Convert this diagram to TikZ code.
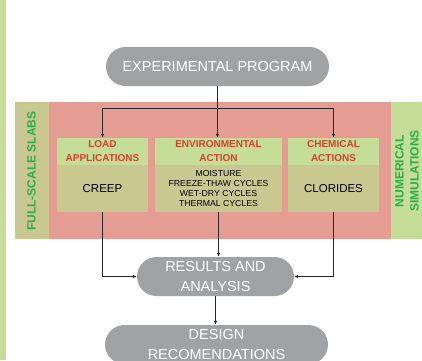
\documentclass[tikz,border=0pt]{standalone}
\usepackage{fontspec}
\setmainfont{Liberation Sans}
\usetikzlibrary{shapes.misc,arrows.meta}

\definecolor{gris}{HTML}{A0A2A3}
\definecolor{rosa}{HTML}{E59D93}
\definecolor{caqui}{HTML}{C9C891}
\definecolor{verde}{HTML}{C4DD97}
\definecolor{rojo}{HTML}{D8412F}
\definecolor{verdeosc}{HTML}{2AAE4A}

\tikzset{
  ovalo/.style={rounded rectangle, fill=gris, text=white, inner sep=0pt,
    minimum height=39pt, align=center, font=\fontsize{14.5}{20}\selectfont},
  cabecera/.style={rectangle, fill=verde, text=rojo, inner sep=0pt,
    minimum height=27pt, align=center, font=\fontsize{10}{14}\selectfont\bfseries},
  cuerpo/.style={rectangle, fill=caqui, inner sep=0pt, minimum height=47pt,
    align=center, font=\fontsize{11.5}{14}\selectfont},
  lateral/.style={text=verdeosc, rotate=90, align=center,
    font=\fontsize{12}{15}\selectfont\bfseries},
  flecha/.style={-{Latex[length=4pt,width=3.5pt]}, line width=0.8pt, black!85}
}

\begin{document}
\begin{tikzpicture}[x=1pt,y=-1pt]
    \useasboundingbox (0,0) rectangle (422,360);

    % Franjas de fondo
    \fill[verde] (0,0) rectangle (6,360);
    \fill[rosa] (15,102) rectangle (391,239);
    \fill[caqui] (15,102) rectangle (49,239);
    \fill[verde] (391,102) rectangle (422,239);
    \node[lateral] (losas) at (31.5,171) {FULL-SCALE SLABS};
    \node[lateral] (numer) at (407,171) {NUMERICAL\\SIMULATIONS};

    % Programa experimental
    \node[ovalo, minimum width=223pt] (prog) at (217.5,66.5) {EXPERIMENTAL PROGRAM};

    % Acciones
    \node[cabecera, minimum width=91pt] (carga) at (102.5,151.5) {LOAD\\APPLICATIONS};
    \node[cuerpo, minimum width=91pt] (fluencia) at (102.5,188.5) {CREEP};
    \node[cabecera, minimum width=127pt] (amb) at (218.5,151.5) {ENVIRONMENTAL\\ACTION};
    \node[cuerpo, minimum width=127pt, font=\fontsize{8.7}{10}\selectfont] (ciclos) at (218.5,188.5)
        {MOISTURE\\FREEZE-THAW CYCLES\\WET-DRY CYCLES\\THERMAL CYCLES};
    \node[cabecera, minimum width=91pt] (quim) at (333.5,151.5) {CHEMICAL\\ACTIONS};
    \node[cuerpo, minimum width=91pt] (clor) at (333.5,188.5) {CLORIDES};

    % Resultados y recomendaciones
    \node[ovalo, minimum width=157pt] (res) at (215.5,276.5) {RESULTS AND\\ANALYSIS};
    \node[ovalo, minimum width=223pt] (dis) at (216.5,344.5) {DESIGN\\RECOMENDATIONS};

    % Flechas
    \coordinate (rama) at (prog.south |- 0,108);
    \draw[flecha] (prog.south) -- (prog.south |- amb.north);
    \draw[flecha] (rama) -| (carga.north);
    \draw[flecha] (rama) -| (quim.north);
    \draw[flecha] (fluencia.south) |- (res.west);
    \draw[flecha] (ciclos.south) -- (ciclos.south |- res.north);
    \draw[flecha] (clor.south) |- (res.east);
    \draw[flecha] (res.south) -- (res.south |- dis.north);
\end{tikzpicture}
\end{document}
